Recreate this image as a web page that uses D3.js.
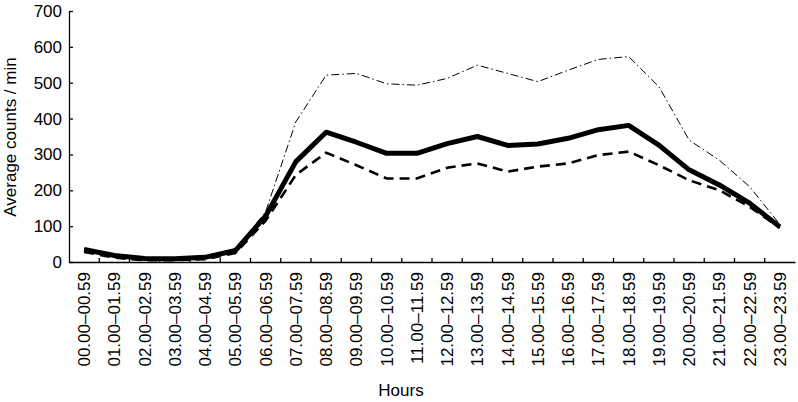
<!DOCTYPE html>
<html>
<head>
<meta charset="utf-8">
<script src="https://cdn.jsdelivr.net/npm/d3@7"></script>
<style>
  body { margin: 0; background: #fff; }
  text { font-family: "Liberation Sans", Arial, sans-serif; }
</style>
</head>
<body>
<div id="chart"></div>
<script>
// hour bands
var hours = ["00.00\u201300.59", "01.00\u201301.59", "02.00\u201302.59", "03.00\u201303.59",
  "04.00\u201304.59", "05.00\u201305.59", "06.00\u201306.59", "07.00\u201307.59",
  "08.00\u201308.59", "09.00\u201309.59", "10.00\u201310.59", "11.00\u201311.59",
  "12.00\u201312.59", "13.00\u201313.59", "14.00\u201314.59", "15.00\u201315.59",
  "16.00\u201316.59", "17.00\u201317.59", "18.00\u201318.59", "19.00\u201319.59",
  "20.00\u201320.59", "21.00\u201321.59", "22.00\u201322.59", "23.00\u201323.59"];

// series
var meanCounts = [35, 18, 10, 9, 13, 32, 128, 280, 362, 334, 303, 303, 330, 350, 325, 329, 345, 369, 381, 326, 257, 215, 164, 98];
var lowerCounts = [28, 12, 5, 5, 8, 25, 115, 243, 305, 270, 233, 233, 263, 275, 252, 266, 275, 298, 308, 270, 228, 200, 154, 95];
var upperCounts = [38, 20, 12, 12, 18, 36, 140, 391, 521, 526, 497, 493, 512, 549, 526, 503, 535, 565, 573, 489, 340, 284, 210, 105];

var yTicks = [0, 100, 200, 300, 400, 500, 600, 700];

function init() {
    var svgWidth = 798;
    var svgHeight = 402;

    var svg = d3.select("#chart")
        .append("svg")
        .attr("width", svgWidth)
        .attr("height", svgHeight);

    var xScale = d3.scaleBand()
        .domain(hours)
        .range([69, 795])
        .padding(0);

    var yScale = d3.scaleLinear()
        .domain([0, 700])
        .range([262, 11]);

    var cx = d => xScale(d) + xScale.bandwidth() / 2;

    // y axis
    var leftAxis = d3.axisLeft(yScale)
        .tickValues(yTicks)
        .tickSizeInner(-4)
        .tickSizeOuter(0)
        .tickPadding(7);

    var yG = svg.append("g")
        .attr("transform", "translate(69,0)")
        .call(leftAxis);
    yG.selectAll("text")
        .attr("font-size", "17px")
        .attr("fill", "#000");
    yG.selectAll("line, path").attr("stroke", "#000").attr("stroke-width", 1.3);

    // x axis (labels at band centres, ticks at band edges)
    var botAxis = d3.axisBottom(xScale)
        .tickSize(0)
        .tickPadding(0);

    var xG = svg.append("g")
        .attr("transform", "translate(0,262)")
        .call(botAxis);
    xG.select(".domain").attr("stroke", "#000").attr("stroke-width", 1.3);
    xG.selectAll("text")
        .attr("font-size", "17px")
        .attr("fill", "#000")
        .attr("transform", "rotate(-90)")
        .attr("text-anchor", "end")
        .attr("x", -10)
        .attr("y", 0)
        .attr("dy", "0.35em");

    svg.append("g")
        .selectAll("line")
        .data(hours.slice(1))
        .enter()
        .append("line")
        .attr("x1", d => xScale(d))
        .attr("x2", d => xScale(d))
        .attr("y1", 262)
        .attr("y2", 258)
        .attr("stroke", "#000")
        .attr("stroke-width", 1.3);

    // axis titles
    svg.append("text")
        .attr("transform", "translate(16,137) rotate(-90)")
        .attr("text-anchor", "middle")
        .attr("font-size", "17px")
        .text("Average counts / min");

    svg.append("text")
        .attr("x", 401)
        .attr("y", 396)
        .attr("text-anchor", "middle")
        .attr("font-size", "17px")
        .text("Hours");

    function lineFor(values) {
        return d3.line()
            .x((d, i) => cx(hours[i]))
            .y(d => yScale(d))(values);
    }

    svg.append("path")
        .attr("d", lineFor(upperCounts))
        .attr("fill", "none")
        .attr("stroke", "#000")
        .attr("stroke-width", 1)
        .attr("stroke-dasharray", "8,3,1.5,3");

    svg.append("path")
        .attr("d", lineFor(lowerCounts))
        .attr("fill", "none")
        .attr("stroke", "#000")
        .attr("stroke-width", 2.6)
        .attr("stroke-dasharray", "10,6");

    svg.append("path")
        .attr("d", lineFor(meanCounts))
        .attr("fill", "none")
        .attr("stroke", "#000")
        .attr("stroke-width", 5)
        .attr("stroke-linejoin", "round");
}
window.addEventListener('load', init, false);
</script>
</body>
</html>
